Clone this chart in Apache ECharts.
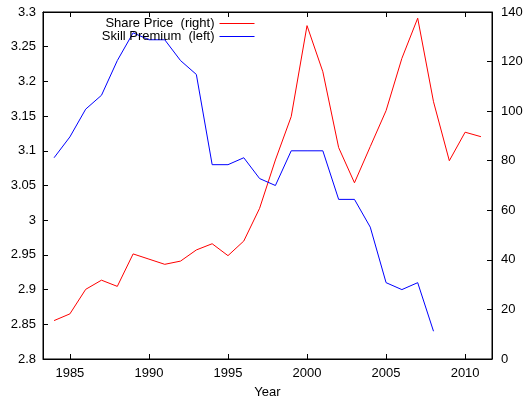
<!DOCTYPE html>
<html><head><meta charset="utf-8">
<script src="https://cdn.jsdelivr.net/npm/echarts@6/dist/echarts.min.js"></script>
<style>html,body{margin:0;padding:0;background:#fff}#c{width:525px;height:401px}</style>
</head><body><div id="c"></div>
<script>
var years = [1984,1985,1986,1987,1988,1989,1990,1991,1992,1993,1994,1995,1996,1997,1998,1999,2000,2001,2002,2003,2004,2005,2006,2007,2008,2009,2010,2011];
var sharePrice = [15.5,18.2,28.1,31.8,29.3,42.4,40.3,38.2,39.5,44.0,46.5,41.7,47.6,60.8,80.3,97.8,134.5,115.9,85.3,71.1,85.7,100.2,121.3,137.5,103.8,80.0,91.5,89.7];
var skillPremium = [3.09,3.12,3.16,3.18,3.23,3.27,3.26,3.26,3.23,3.21,3.08,3.08,3.09,3.06,3.05,3.10,3.10,3.10,3.03,3.03,2.99,2.91,2.90,2.91,2.84];
var xTicks = [1985,1990,1995,2000,2005,2010];
var leftTicks = [2.8,2.85,2.9,2.95,3,3.05,3.1,3.15,3.2,3.25,3.3];
var rightTicks = [0,20,40,60,80,100,120,140];
var seriesNames = ['Share Price  (right)', 'Skill Premium  (left)'];

var font = 'Liberation Sans, Arial, sans-serif';
var fs = 13;
var chart = echarts.init(document.getElementById('c'), null, {renderer:'canvas'});
var axisLine = {show:true, lineStyle:{color:'#000', width:1}};
chart.setOption({
  animation:false,
  backgroundColor:'#fff',
  grid:{left:43, right:33, top:12, bottom:42, show:true, borderColor:'#000', borderWidth:1, backgroundColor:'transparent', containLabel:false, outerBoundsMode:'none'},
  legend:{data:seriesNames, orient:'vertical', align:'right', right:270, top:17,
    itemWidth:35, itemHeight:10, itemGap:0, padding:0,
    itemStyle:{opacity:0}, lineStyle:{width:1},
    textStyle:{fontFamily:font, fontSize:fs, color:'#000', lineHeight:13}},
  xAxis:[
    {type:'value', min:1983.3, max:2011.7, position:'bottom',
     name:'Year', nameLocation:'middle', nameGap:27, nameTextStyle:{fontFamily:font, fontSize:fs, color:'#000'},
     axisLine:axisLine, axisTick:{show:true, inside:true, length:5, customValues:xTicks, lineStyle:{color:'#000'}},
     axisLabel:{customValues:xTicks, formatter:function(v){return String(v);}, fontFamily:font, fontSize:fs, color:'#000', margin:8},
     splitLine:{show:false}},
    {type:'value', min:1983.3, max:2011.7, position:'top',
     axisLine:axisLine, axisTick:{show:true, inside:true, length:5, customValues:xTicks, lineStyle:{color:'#000'}},
     axisLabel:{show:false}, splitLine:{show:false}}
  ],
  yAxis:[
    {type:'value', min:2.8, max:3.3, position:'left',
     axisLine:axisLine, axisTick:{show:true, inside:true, length:5, customValues:leftTicks, lineStyle:{color:'#000'}},
     axisLabel:{customValues:leftTicks, formatter:function(v){return String(+v.toFixed(2));}, fontFamily:font, fontSize:fs, color:'#000', margin:7},
     splitLine:{show:false}},
    {type:'value', min:0, max:140, position:'right',
     axisLine:axisLine, axisTick:{show:true, inside:true, length:5, customValues:rightTicks, lineStyle:{color:'#000'}},
     axisLabel:{customValues:rightTicks, formatter:function(v){return String(v);}, fontFamily:font, fontSize:fs, color:'#000', margin:9},
     splitLine:{show:false}}
  ],
  series:[
    {name:seriesNames[0], type:'line', xAxisIndex:0, yAxisIndex:1, symbol:'none',
     lineStyle:{color:'#ff0000', width:1}, itemStyle:{color:'#ff0000'},
     data:years.map(function(y,i){return [y, sharePrice[i]];})},
    {name:seriesNames[1], type:'line', xAxisIndex:0, yAxisIndex:0, symbol:'none',
     lineStyle:{color:'#0000ff', width:1}, itemStyle:{color:'#0000ff'},
     data:skillPremium.map(function(v,i){return [years[i], v];})}
  ]
});
</script></body></html>
